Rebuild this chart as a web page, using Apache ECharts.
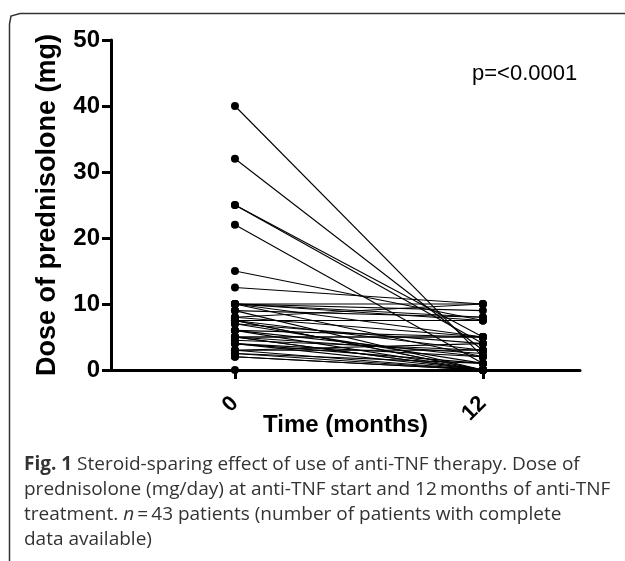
<!DOCTYPE html>
<html><head><meta charset="utf-8">
<script src="https://cdn.jsdelivr.net/npm/echarts@6/dist/echarts.min.js"></script>
<style>html,body{margin:0;padding:0;background:#fff}#c{width:625px;height:561px}</style>
</head><body><div id="c"></div>
<script>
const timePoints = [0, 12];
const xTickLabels = ['0', '12'];
const yTicks = [0, 10, 20, 30, 40, 50];
const doseStart = [40, 32, 25, 25, 22, 15, 12.5, 10, 10, 10, 10, 10, 9, 9, 8, 8, 7.5, 7.5, 7.5, 7, 7, 6, 6, 5, 5, 5, 5, 4.5, 4, 4, 3, 3, 2.5, 2, 2, 0, 10, 5, 6, 3, 4, 7.5, 2.5];
const doseEnd   = [2, 3, 5, 4, 1, 7.5, 10, 10, 9, 7.5, 5, 2, 8, 0, 10, 5, 7.5, 3, 0, 4, 1, 5, 0, 5, 2.5, 0, 0, 3, 2, 0, 4, 0, 1, 0, 0, 0, 8, 5, 2, 3, 1, 0, 0];
const pText = 'p=<0.0001';
const captionLines = [
  'Steroid-sparing effect of use of anti-TNF therapy. Dose of',
  'prednisolone (mg/day) at anti-TNF start and 12\u2009months of anti-TNF',
  'treatment. ',
  'data available)'
];

const series = doseStart.map((s, i) => ({
  type: 'line',
  data: [[timePoints[0], s], [timePoints[1], doseEnd[i]]],
  symbol: 'circle',
  symbolSize: 8,
  lineStyle: {color: '#000', width: 1.1},
  itemStyle: {color: '#000'},
  silent: true,
  animation: false,
  z: 2
}));

const chart = echarts.init(document.getElementById('c'), null, {renderer: 'canvas'});
const axisFont = 'Liberation Sans, Arial, sans-serif';
const capFont = '"Open Sans", "Noto Sans", sans-serif';
chart.setOption({
  animation: false,
  backgroundColor: '#fff',
  grid: {left: 111, top: 40, right: 45, bottom: 191, containLabel: false},
  xAxis: {
    type: 'value', min: -6, max: 16.7,
    splitLine: {show: false},
    axisLine: {onZero: false, lineStyle: {color: '#000', width: 3}},
    axisTick: {customValues: timePoints, length: 9, lineStyle: {color: '#000', width: 3}},
    axisLabel: {customValues: timePoints, formatter: v => xTickLabels[timePoints.indexOf(v)], rotate: 45, margin: 30,
      color: '#000', fontSize: 22, fontWeight: 'bold', fontFamily: axisFont},
    name: 'Time (months)', nameLocation: 'middle', nameGap: 43, nameMoveOverlap: false,
    nameTextStyle: {color: '#000', fontSize: 24, fontWeight: 'bold', fontFamily: axisFont}
  },
  yAxis: {
    type: 'value', min: yTicks[0], max: yTicks[yTicks.length - 1], interval: 10,
    splitLine: {show: false},
    axisLine: {onZero: false, lineStyle: {color: '#000', width: 3}},
    axisTick: {length: 9, lineStyle: {color: '#000', width: 3}},
    axisLabel: {color: '#000', fontSize: 24, fontWeight: 'bold', fontFamily: axisFont, margin: 11},
    name: 'Dose of prednisolone (mg)', nameLocation: 'middle', nameGap: 50,
    nameTextStyle: {color: '#000', fontSize: 27, fontWeight: 'bold', fontFamily: axisFont}
  },
  series: series,
  graphic: [
    {type: 'text', left: 472, top: 63, style: {text: pText, fontSize: 22, fontFamily: axisFont, fill: '#000'}},
    {type: 'polyline', shape: {points: [[9.5, 561], [9.5, 24], [11, 16], [20, 13.5], [625, 13.5]]},
      style: {stroke: '#333', lineWidth: 1.5, fill: null}},
    {type: 'text', left: 24, top: 452, style: {
      text: '{b|Fig. 1} ' + captionLines[0] + '\n' + captionLines[1] + '\n' + captionLines[2] + '{i|n}\u2009=\u200943 patients (number of patients with complete\n' + captionLines[3],
      fontSize: 19, lineHeight: 25, fontFamily: capFont, fill: '#333',
      rich: {b: {fontWeight: 'bold', fontSize: 19, lineHeight: 25, fontFamily: capFont, fill: '#333'},
             i: {fontStyle: 'italic', fontSize: 19, lineHeight: 25, fontFamily: capFont, fill: '#333'}}
    }}
  ]
});
</script></body></html>
